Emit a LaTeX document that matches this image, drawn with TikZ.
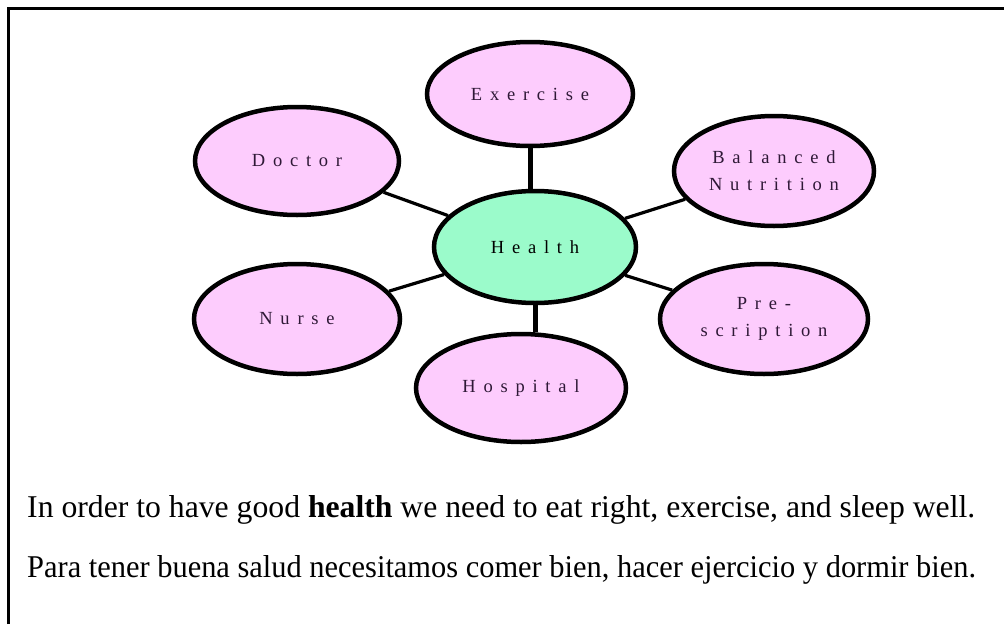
\documentclass[tikz,border=0pt]{standalone}
\usepackage{fontspec}
\setmainfont{Liberation Serif}
\newfontfamily\lblfont[LetterSpace=42]{Liberation Serif}
\usetikzlibrary{shapes.geometric}
\definecolor{pinkfill}{HTML}{FDCCFD}
\definecolor{mintfill}{HTML}{9BFBCB}
\definecolor{lbltext}{HTML}{2E1836}
\begin{document}
\begin{tikzpicture}[x=1pt,y=-1pt,
  bubble/.style={ellipse, draw=black, line width=4.5pt, fill=pinkfill, inner sep=0pt,
    font=\lblfont\fontsize{18.5}{27}\selectfont, text=lbltext, align=center},
  link/.style={line width=3.2pt},
  stem/.style={line width=5pt},
  body/.style={anchor=west, inner sep=0pt, font=\fontsize{31.7}{36}\selectfont}]
\useasboundingbox (0,0) rectangle (1004,624);
\draw[line width=3pt] (8.5,624) -- (8.5,8.5) -- (1004,8.5);

\node[bubble, fill=mintfill, text=black, minimum width=202pt, minimum height=112pt] (health) at (535,247) {Health};
\node[bubble, minimum width=206pt, minimum height=104pt] (exercise) at (530,94) {Exercise};
\node[bubble, minimum width=204pt, minimum height=108pt] (doctor) at (297,161) {Doctor};
\node[bubble, minimum width=200pt, minimum height=110pt] (nutrition) at (774,171) {Balanced\\Nutrition};
\node[bubble, minimum width=206pt, minimum height=110pt] (nurse) at (297,319) {Nurse};
\node[bubble, minimum width=208pt, minimum height=110pt] (prescription) at (764,319) {Pre-\\scription};
\node[bubble, minimum width=210pt, minimum height=108pt] (hospital) at (521,388) {Hospital};

\draw[stem] (exercise.south) -- (exercise.south |- health.north);
\draw[stem] (health.south) -- (health.south |- hospital.north);
\draw[link] (health) -- (doctor);
\draw[link] (health) -- (nutrition);
\draw[link] (health) -- (nurse);
\draw[link] (health) -- (prescription);

\node[body] (line1) at (27,510) {In order to have good \textbf{health} we need to eat right, exercise, and sleep well.};
\node[body] (line2) at (27,570) {\scalebox{0.96}[1]{Para tener buena salud necesitamos comer bien, hacer ejercicio y dormir bien.}};
\end{tikzpicture}
\end{document}
